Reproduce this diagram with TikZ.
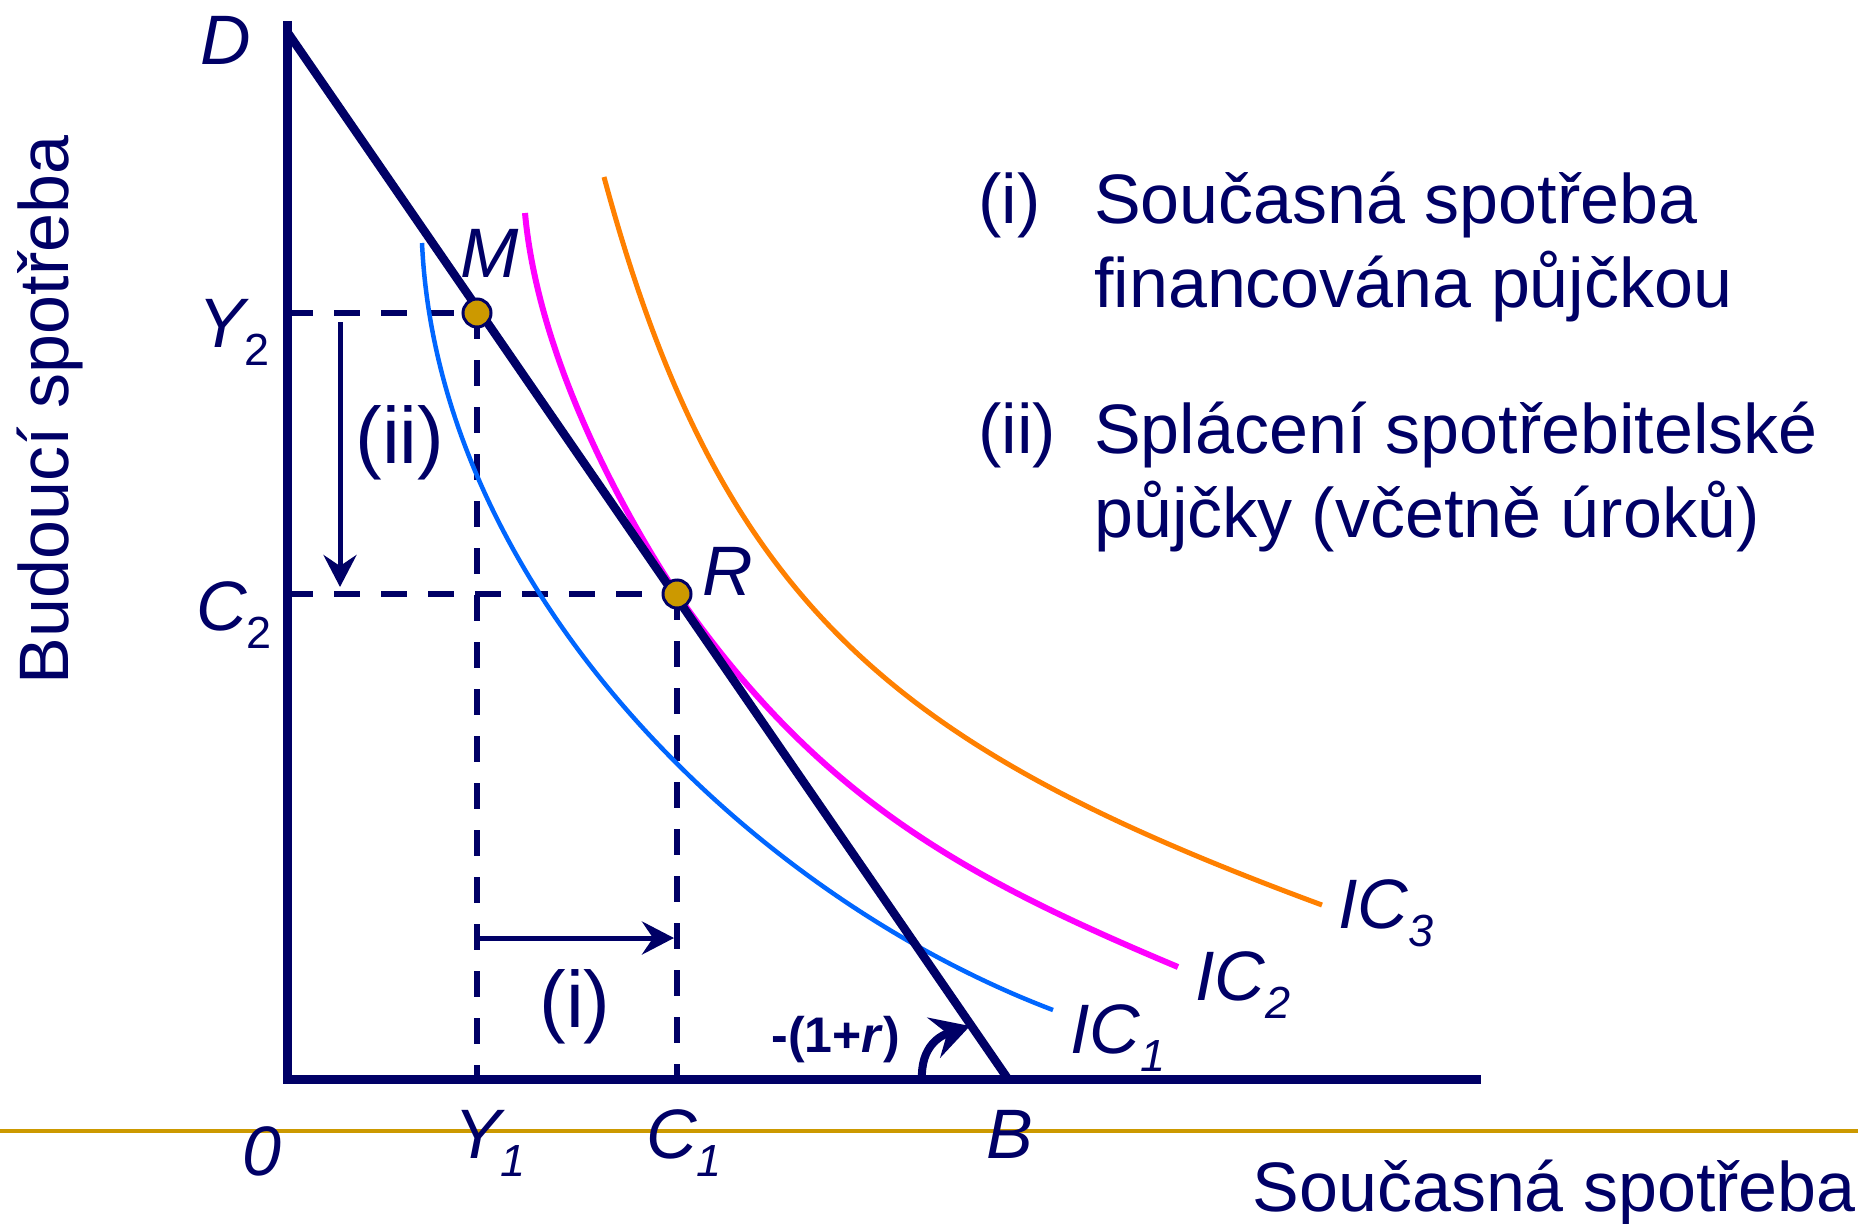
\documentclass[tikz,border=0pt]{standalone}
\usepackage{fontspec}
\setmainfont{Liberation Sans}
\usetikzlibrary{arrows.meta}
\definecolor{navy}{RGB}{0,0,102}
\definecolor{gold}{RGB}{204,153,0}
\definecolor{icblue}{RGB}{0,102,255}
\definecolor{icmag}{RGB}{255,0,255}
\definecolor{icorange}{RGB}{255,128,0}
\newcommand\mysub[1]{\raisebox{-18pt}{\fontsize{45}{45}\selectfont #1}}
\begin{document}
\begin{tikzpicture}[x=1pt,y=-1pt,
  lbl/.style={font=\fontsize{70}{84}\selectfont\itshape, text=navy, inner sep=0pt},
  txt/.style={font=\fontsize{70}{84}\selectfont, text=navy, inner sep=0pt},
  big/.style={font=\fontsize{80}{96}\selectfont, text=navy, inner sep=0pt},
  axisline/.style={draw=navy, line width=9pt, line join=miter},
  budget/.style={draw=navy, line width=8.5pt},
  guide/.style={draw=navy, line width=6.5pt, dash pattern=on 26pt off 21pt},
  shiftarrow/.style={draw=navy, line width=5pt, -{Stealth[length=32pt,width=33pt,inset=11pt]}},
  dot/.style={circle, fill=gold, draw=navy, line width=3pt, minimum size=28pt, inner sep=0pt},
]
\useasboundingbox (0,0) rectangle (1865,1223);
\fill[white] (0,0) rectangle (1865,1223);

% coordinates
\coordinate (ytop) at (287,21);
\coordinate (O) at (287,1079);
\coordinate (xend) at (1481,1079);
\coordinate (D) at (288,33);
\coordinate (B) at (1008,1079);
\coordinate (m) at (477,313);
\coordinate (r) at (677,594);
\coordinate (y2ax) at (287,313);
\coordinate (c2ax) at (287,594);
\coordinate (y1ax) at (477,1079);
\coordinate (c1ax) at (677,1079);
\coordinate (gl) at (0,1131);
\coordinate (gr) at (1858,1131);
\coordinate (iitop) at (340,322);
\coordinate (iibot) at (340,587);
\coordinate (ileft) at (478,938);
\coordinate (iright) at (674,938);
\coordinate (arcstart) at (922,1081);
\coordinate (arcend) at (970,1026);
\coordinate (ic1s) at (422,243);
\coordinate (ic1e) at (1053,1010);
\coordinate (ic2s) at (525,213);
\coordinate (ic2e) at (1178,967);
\coordinate (ic3s) at (604,177);
\coordinate (ic3e) at (1322,905);

% gold line
\draw[gold, line width=4pt] (gl) -- (gr);

% dashed guides
\draw[guide] (y2ax) -- (m);
\draw[guide] (c2ax) -- (r);
\draw[guide] (m) -- (y1ax);
\draw[guide] (r) -- (c1ax);

% indifference curves
\draw[icblue, line width=4.5pt] (ic1s) .. controls (438,590) and (750,895) .. (ic1e);
\draw[icmag, line width=6pt] (ic2s) .. controls (540,380) and (650,554) .. (r)
  .. controls (820,800) and (966,878) .. (ic2e);
\draw[icorange, line width=5pt] (ic3s) .. controls (721,611) and (900,749) .. (ic3e);

% budget line and axes
\draw[budget] (D) -- (B);
\draw[axisline] (ytop) -- (O) -- (xend);

% shift arrows
\draw[shiftarrow] (iitop) -- (iibot);
\draw[shiftarrow] (ileft) -- (iright);
\draw[draw=navy, line width=8pt, -{Stealth[length=38pt,width=42pt,inset=14pt]}]
  (arcstart) .. controls (920,1045) and (942,1035) .. (arcend);

% points
\node[dot] (M) at (m) {};
\node[dot] (R) at (r) {};

% labels
\node[lbl, anchor=base] (labD) at (226,65) {D};
\node[lbl, anchor=base] (labM) at (490,277) {M};
\node[lbl, anchor=base west] (labY2) at (198,347) {Y\mysub{\upshape 2}};
\node[lbl, anchor=base west] (labC2) at (196,630) {C\mysub{\upshape 2}};
\node[lbl, anchor=base] (labR) at (728,595) {R};
\node[lbl, anchor=base] (lab0) at (262,1175) {0};
\node[lbl, anchor=base west] (labY1) at (454,1158) {Y\mysub{1}};
\node[lbl, anchor=base west] (labC1) at (646,1158) {C\mysub{1}};
\node[lbl, anchor=base] (labB) at (1010,1158) {B};
\node[lbl, anchor=base west] (labIC1) at (1070,1053) {IC\mysub{1}};
\node[lbl, anchor=base west] (labIC2) at (1195,1000) {IC\mysub{2}};
\node[lbl, anchor=base west] (labIC3) at (1338,928) {IC\mysub{3}};

\node[big] (labii) at (400,443) {(ii)};
\node[big] (labi) at (575,1007) {(i)};
\node[font=\fontsize{50}{60}\selectfont\bfseries, text=navy, inner sep=0pt] (slope) at (836,1040) {-(1+\textit{r})};

% legend
\node[txt, anchor=base west] (legi) at (978,223) {(i)};
\node[txt, anchor=base west] (legi1) at (1094,223) {Současná spotřeba};
\node[txt, anchor=base west] (legi2) at (1094,307) {financována půjčkou};
\node[txt, anchor=base west] (legii) at (978,453) {(ii)};
\node[txt, anchor=base west] (legii1) at (1094,453) {Splácení spotřebitelské};
\node[txt, anchor=base west] (legii2) at (1094,537) {půjčky (včetně úroků)};

% axis titles
\node[txt, rotate=90, anchor=base] (ytitle) at (68,410) {Budoucí spotřeba};
\node[txt, anchor=base east] (xtitle) at (1856,1211) {Současná spotřeba};
\end{tikzpicture}
\end{document}
